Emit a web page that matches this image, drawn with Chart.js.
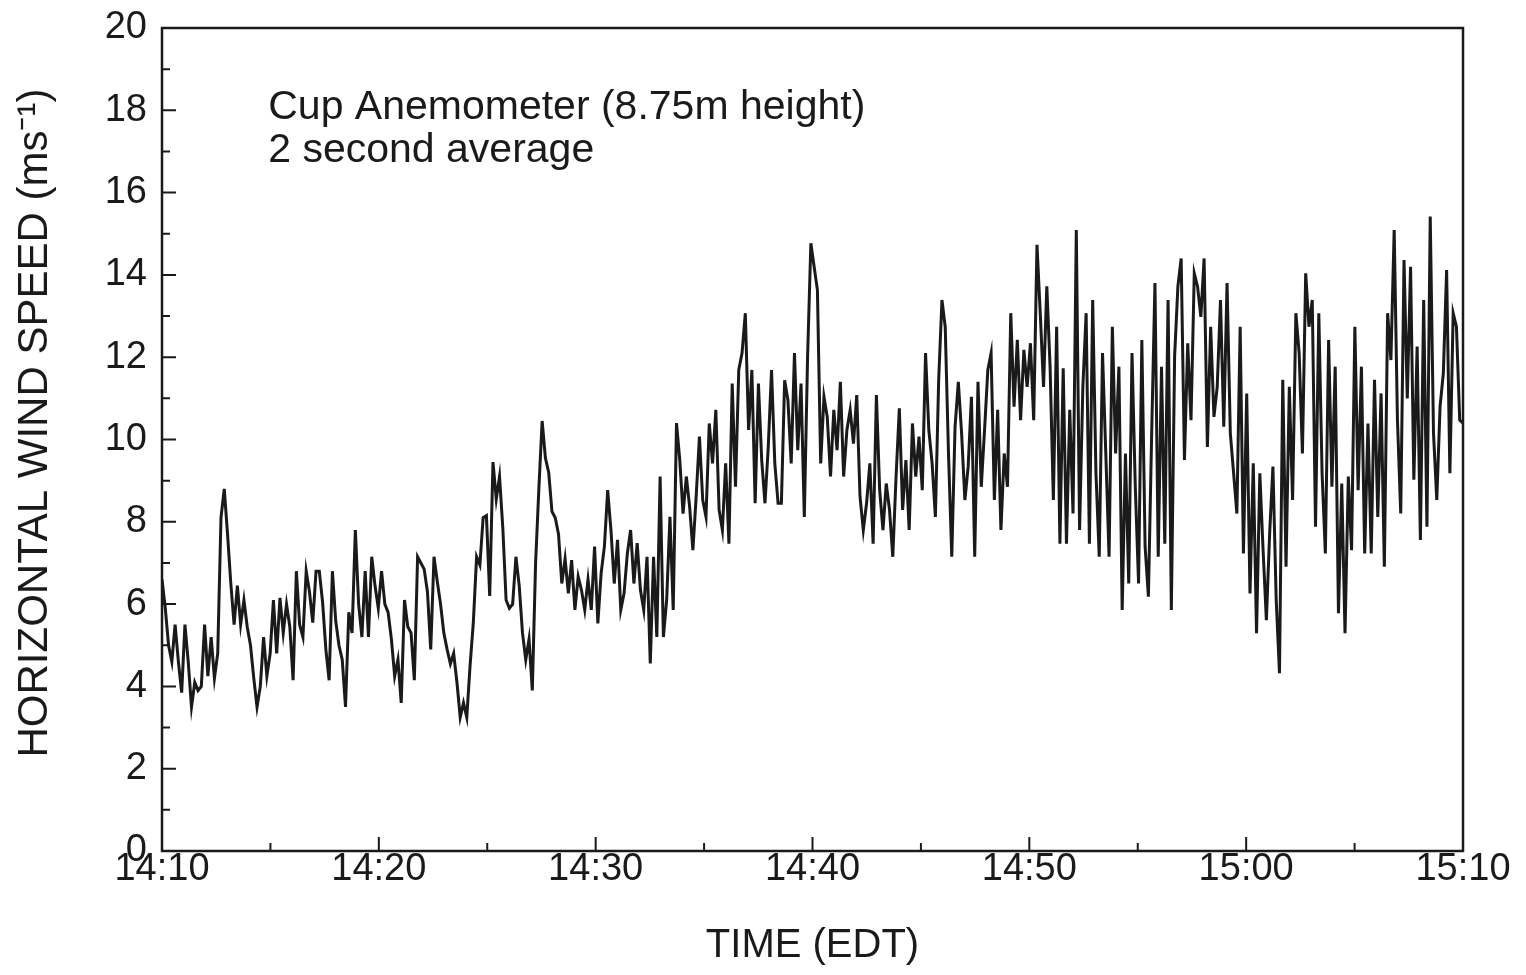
<!DOCTYPE html>
<html>
<head>
<meta charset="utf-8">
<script src="https://cdn.jsdelivr.net/npm/chart.js@4.4.1/dist/chart.umd.min.js"></script>
<style>
    html, body { margin: 0; padding: 0; background: #fff; }
    #wrap { width: 1526px; height: 975px; }
</style>
</head>
<body>
<div id="wrap"><canvas id="windChart" width="1526" height="975"></canvas></div>
<script>
// Tick labels, axis titles and annotation text
const xTickLabels = ['14:10', '14:20', '14:30', '14:40', '14:50', '15:00', '15:10'];
const yTickValues = [0, 2, 4, 6, 8, 10, 12, 14, 16, 18, 20];
const xTitle = 'TIME (EDT)';
const yTitle = 'HORIZONTAL WIND SPEED (ms\u207B\u00B9)';
const noteLines = ['Cup Anemometer (8.75m height)', '2 second average'];

// Wind speed (m/s), evenly spaced from 14:10 to 15:10
const windSpeed = [
    // 14:10 - 14:16
    6.6, 5.9, 5.0, 4.6, 5.5, 4.6, 3.85, 5.5, 4.6, 3.5, 4.1, 3.9, 4.0, 5.5, 4.25, 5.2, 4.2, 4.8, 8.1, 8.8,
    7.7, 6.5, 5.5, 6.45, 5.5, 6.1, 5.45, 5.0, 4.2, 3.5, 4.0, 5.2, 4.25, 4.8, 6.1, 4.8, 6.15, 5.3, 6.0, 5.45,
    // 14:16 - 14:22
    4.15, 6.8, 5.5, 5.2, 6.8, 6.3, 5.55, 6.8, 6.8, 6.05, 4.9, 4.15, 6.8, 5.6, 5.0, 4.65, 3.5, 5.8, 5.3, 7.8,
    6.0, 5.2, 6.8, 5.2, 7.15, 6.45, 5.9, 6.8, 6.0, 5.8, 5.15, 4.25, 4.65, 3.6, 6.1, 5.45, 5.3, 4.15, 7.15, 7.0,
    // 14:22 - 14:28
    6.85, 6.3, 4.9, 7.15, 6.55, 6.0, 5.3, 4.9, 4.55, 4.8, 4.1, 3.25, 3.6, 3.25, 4.5, 5.55, 7.15, 6.95, 8.1, 8.15,
    6.2, 9.45, 8.55, 9.1, 7.85, 6.1, 5.9, 6.0, 7.15, 6.45, 5.3, 4.65, 5.15, 3.9, 7.0, 8.8, 10.45, 9.55, 9.2, 8.25,
    // 14:28 - 14:34
    8.1, 7.7, 6.5, 7.1, 6.26, 7.07, 5.86, 6.67, 6.34, 5.86, 6.6, 5.86, 7.4, 5.53, 6.75, 7.4, 8.77, 7.8, 6.5, 7.56,
    5.86, 6.26, 7.23, 7.8, 6.5, 7.48, 6.34, 5.86, 7.15, 4.56, 7.15, 5.2, 9.1, 5.2, 6.1, 8.12, 5.86, 10.4, 9.5, 8.2,
    // 14:34 - 14:40
    9.1, 8.37, 7.31, 8.61, 10.07, 8.53, 8.12, 10.39, 9.42, 10.72, 8.29, 7.8, 9.42, 7.47, 11.36, 8.85, 11.69, 12.1, 13.07, 10.23,
    11.69, 8.45, 11.36, 9.5, 8.45, 9.82, 11.69, 9.42, 8.45, 8.45, 11.44, 10.96, 9.42, 12.1, 9.74, 11.36, 8.12, 12.01, 14.77, 14.2,
    // 14:40 - 14:46
    13.63, 9.42, 11.04, 10.55, 9.1, 10.72, 9.74, 11.4, 9.1, 10.23, 10.72, 9.9, 11.08, 8.61, 7.8, 8.45, 9.42, 7.47, 11.08, 8.77,
    7.8, 8.93, 8.29, 7.15, 9.1, 10.76, 8.29, 9.5, 7.8, 10.39, 9.1, 10.07, 8.77, 12.1, 10.23, 9.42, 8.12, 11.44, 13.39, 12.74,
    // 14:46 - 14:52
    9.66, 7.15, 10.31, 11.4, 10.15, 8.53, 9.34, 11.04, 7.15, 11.4, 8.85, 10.23, 11.69, 12.1, 8.53, 10.72, 7.8, 9.66, 8.85, 13.07,
    10.8, 12.42, 10.47, 12.18, 11.28, 12.34, 10.47, 14.73, 13.07, 11.28, 13.72, 11.77, 8.53, 12.74, 7.47, 11.73, 7.47, 10.72, 8.2, 15.09,
    // 14:52 - 14:58
    7.8, 11.28, 13.07, 7.47, 13.39, 9.18, 7.15, 12.1, 9.66, 7.15, 12.74, 9.66, 11.77, 5.86, 9.66, 6.5, 12.1, 8.85, 6.5, 12.42,
    7.39, 6.18, 10.15, 13.8, 7.15, 11.77, 7.47, 13.39, 5.86, 12.02, 13.72, 14.4, 9.5, 12.34, 10.47, 14.04, 13.72, 12.98, 14.4, 9.82,
    // 14:58 - 15:04
    12.74, 10.55, 11.28, 13.39, 10.31, 13.8, 10.15, 9.18, 8.2, 12.74, 7.23, 11.12, 6.26, 9.42, 5.29, 9.18, 7.31, 5.61, 7.72, 9.34,
    6.1, 4.32, 11.45, 6.91, 11.28, 8.53, 13.07, 12.1, 9.66, 14.04, 12.74, 13.39, 7.88, 13.07, 9.18, 7.23, 12.42, 8.85, 11.77, 5.78,
    // 15:04 - 15:10
    8.93, 5.29, 9.1, 7.31, 12.74, 8.77, 11.77, 7.23, 10.39, 7.23, 11.45, 8.12, 11.12, 6.91, 13.07, 11.93, 15.09, 10.47, 8.2, 14.36,
    11.0, 14.2, 9.02, 12.26, 7.56, 13.39, 7.88, 15.42, 10.15, 8.53, 10.8, 11.61, 14.12, 9.18, 13.07, 12.74, 10.47, 10.4
];

const spanMinutes = 60;
const sampleStep = spanMinutes / (windSpeed.length - 1);
const points = windSpeed.map((v, i) => ({ x: i * sampleStep, y: v }));

const INK = '#1a1a1a';
const FONT = '"Liberation Sans", Arial, Helvetica, sans-serif';

// Frame, inward tick marks, y title and the in-plot note
const frameAndTicks = {
    id: 'frameAndTicks',
    afterDatasetsDraw(chart) {
        const { ctx, chartArea: a, scales: { x, y } } = chart;
        ctx.save();
        ctx.strokeStyle = INK;
        ctx.lineWidth = 2.5;
        ctx.strokeRect(a.left, a.top, a.right - a.left, a.bottom - a.top);

        ctx.lineWidth = 2;
        ctx.beginPath();
        for (let v = 1; v < 20; v++) {
            const py = y.getPixelForValue(v);
            const len = v % 2 === 0 ? 14 : 8;
            ctx.moveTo(a.left, py);
            ctx.lineTo(a.left + len, py);
        }
        for (let m = 5; m < spanMinutes; m += 5) {
            const px = x.getPixelForValue(m);
            const len = m % 10 === 0 ? 14 : 8;
            ctx.moveTo(px, a.bottom);
            ctx.lineTo(px, a.bottom - len);
        }
        ctx.stroke();

        ctx.fillStyle = INK;
        ctx.font = '41px ' + FONT;
        ctx.textAlign = 'left';
        ctx.textBaseline = 'alphabetic';
        const nx = x.getPixelForValue(4.9);
        const ny = y.getPixelForValue(17.8);
        noteLines.forEach((t, i) => ctx.fillText(t, nx, ny + i * 43));

        // y axis title, centred a little above the middle of the axis
        ctx.font = '42px ' + FONT;
        ctx.textAlign = 'center';
        ctx.textBaseline = 'middle';
        ctx.translate(35, y.getPixelForValue(10.4));
        ctx.rotate(-Math.PI / 2);
        ctx.fillText(yTitle, 0, 0);
        ctx.restore();
    }
};

new Chart(document.getElementById('windChart'), {
    type: 'line',
    data: {
        datasets: [{
            data: points,
            borderColor: INK,
            borderWidth: 3,
            pointRadius: 0,
            tension: 0,
            fill: false
        }]
    },
    options: {
        responsive: false,
        animation: false,
        devicePixelRatio: 1,
        layout: { padding: { left: 0, right: 63, top: 28, bottom: 0 } },
        plugins: {
            legend: { display: false },
            tooltip: { enabled: false }
        },
        scales: {
            x: {
                type: 'linear',
                min: 0,
                max: spanMinutes,
                afterFit: s => { s.height = 124; },
                afterBuildTicks: s => { s.ticks = xTickLabels.map((_, i) => ({ value: i * 10 })); },
                grid: { display: false, drawTicks: false },
                border: { display: false },
                ticks: {
                    padding: -4,
                    color: INK,
                    font: { family: FONT, size: 38 },
                    maxRotation: 0,
                    callback: (v) => xTickLabels[Math.round(v / 10)]
                },
                title: {
                    display: true,
                    text: xTitle,
                    color: INK,
                    font: { family: FONT, size: 40 },
                    padding: { top: 4, bottom: 5 }
                }
            },
            y: {
                min: 0,
                max: 20,
                afterFit: s => {
                    s.width = 162;
                    s.paddingTop = 0;
                    s.paddingBottom = 0;
                },
                afterBuildTicks: s => { s.ticks = yTickValues.map(v => ({ value: v })); },
                grid: { display: false, drawTicks: false },
                border: { display: false },
                ticks: {
                    padding: 15,
                    color: INK,
                    font: { family: FONT, size: 38 }
                }
            }
        }
    },
    plugins: [frameAndTicks]
});
</script>
</body>
</html>
